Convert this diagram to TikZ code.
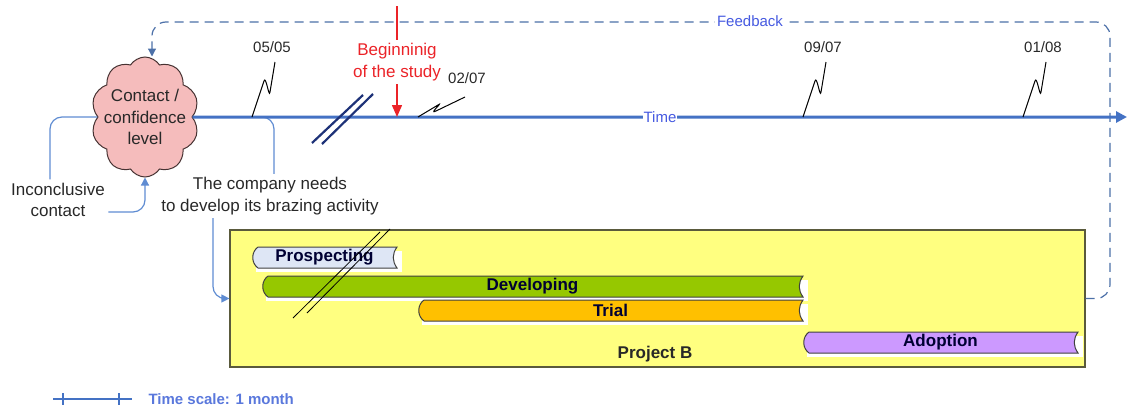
\documentclass[tikz,border=0pt]{standalone}
\usepackage{fontspec}
\setmainfont{Liberation Sans}
\usetikzlibrary{shapes.symbols,arrows.meta}

\definecolor{lineblue}{RGB}{68,114,196}
\definecolor{linkblue}{RGB}{95,140,210}
\definecolor{dashgray}{RGB}{125,140,165}
\definecolor{labelblue}{RGB}{70,90,225}
\definecolor{cloudpink}{RGB}{245,188,188}
\definecolor{boxyellow}{RGB}{255,255,128}
\definecolor{prospect}{RGB}{222,230,245}
\definecolor{develop}{RGB}{150,200,0}
\definecolor{trial}{RGB}{255,192,0}
\definecolor{adopt}{RGB}{204,153,255}
\definecolor{navy}{RGB}{30,50,120}
\definecolor{textgray}{RGB}{40,40,40}
\definecolor{studyred}{RGB}{235,35,40}

% one bar of the project: left, right, top, colour, text, name
\newcommand{\taskbar}[6]{%
   \fill[white] (#1+4,#3+4) rectangle (#2+5,#3+25);
   \draw[barline, fill=#4] (#1+6,#3) -- (#2,#3)
        .. controls (#2-5,#3+7) and (#2-5,#3+14) .. (#2,#3+21)
        -- (#1+6,#3+21) .. controls (#1-1,#3+16) and (#1-1,#3+5) .. (#1+6,#3);
   \node[bartext] (#6) at ({(#1+#2)/2},#3+10.5) {#5};
}

\begin{document}
\begin{tikzpicture}[x=1pt, y=-1pt,
   every node/.style={font=\fontsize{17}{21.5}\selectfont, text=textgray},
   timeline/.style={draw=lineblue, line width=3pt, -{Triangle[length=11pt,width=11pt]}},
   thinlink/.style={draw=linkblue, line width=1.2pt, rounded corners=12pt},
   feedline/.style={draw=dashgray, line width=1.2pt, dash pattern=on 9pt off 6pt, rounded corners=14pt},
   squig/.style={draw=black, line width=1pt},
   slash/.style={draw=navy, line width=2.2pt},
   barline/.style={draw=black!75, line width=1pt},
   bartext/.style={font=\fontsize{17}{20}\selectfont\bfseries, text=black!80!blue},
   small/.style={font=\fontsize{15}{18}\selectfont}]

   \useasboundingbox (0,0) rectangle (1127,407);

   % project box and its bars
   \node[draw={rgb,255:red,90;green,90;blue,60}, line width=1.2pt, fill=boxyellow,
         minimum width=855pt, minimum height=137pt] (projB) at (657.5,298.5) {};
   \taskbar{252}{397}{247}{prospect}{Prospecting}{prosp}
   \taskbar{262}{803}{276}{develop}{Developing}{devel}
   \taskbar{418}{803}{300}{trial}{Trial}{trial}
   \taskbar{803}{1078}{332}{adopt}{Adoption}{adopt}
   \draw[black, line width=.8pt] (293,318) -- (380,232) (307,313) -- (390,229);
   \node[bartext, text=textgray] (projname) at (655,354) {Project B};

   % nodes
   \node[cloud, cloud puffs=10, cloud puff arc=115, draw={rgb,255:red,70;green,50;blue,50},
         line width=1pt, fill=cloudpink, minimum width=108pt, minimum height=120pt,
         inner sep=0pt, align=center] (cloud) at (145,117) {};
   \node[align=center] (cloudtext) at (cloud.center) {Contact /\\confidence\\level};
   \node[align=center] (inc) at (58,200) {Inconclusive\\contact};
   \node[align=center] (need) at (270,196) {The company needs\\to develop its brazing activity};
   \node[align=center, text=studyred] (start) at (397,62) {Beginninig\\of the study};
   \coordinate (tend) at (1127,117);
   \coordinate (redtop) at (397,6);

   % feedback
   \draw[feedline, -{Triangle[length=8pt,width=8pt]}, linkblue!80!black]
        (projB.east) -| (1110,22) -| ([xshift=7pt]cloud.north);
   \node[small, text=labelblue, fill=white, inner sep=2pt] (fb) at (750,21) {Feedback};

   % links round the cloud
   \draw[thinlink] (cloud.west) -| ([xshift=-8pt]inc.north);
   \draw[thinlink, -{Triangle[length=8pt,width=8pt]}] ([yshift=-12pt]inc.east) -| (cloud.south);
   \draw[thinlink] (cloud.east) -| ([xshift=4pt]need.north);
   \draw[thinlink, -{Triangle[length=8pt,width=8pt]}] ([xshift=-57pt]need.south) |- (projB.west);

   % time axis
   \draw[timeline] (cloud.east) -- (tend);
   \node[small, text=labelblue, fill=white, inner sep=1pt] (time) at (660,117) {Time};
   \draw[slash] (312,143) -- (363,95) (322,144) -- (373,94);

   \foreach \x/\d in {252/{05/05}, 803/{09/07}, 1023/{01/08}}
   {
   \draw[squig] (\x,117) -- (\x+12,81) .. controls (\x+14,75) and (\x+17,99) .. (\x+18,92) -- (\x+23,62);
   \node[small] (d\x) at (\x+20,47) {\d};
   }
   \draw[squig] (418,117) -- (438,105) .. controls (444,101) and (428,115) .. (436,111) -- (465,97);
   \node[small] (d418) at (467,78) {02/07};

   % beginning of the study
   \draw[studyred, line width=1.5pt] (redtop) -- (start.north);
   \draw[studyred, line width=1.5pt, -{Triangle[length=12pt,width=10pt]}] (start.south) -- (start.south |- tend);

   % time scale
   \draw[lineblue, line width=1.5pt] (53,399) -- (132,399);
   \foreach \x in {63,119}
   \draw[lineblue, line width=1.2pt] (\x,393) -- (\x,405);
   \node[anchor=west, font=\fontsize{15}{18}\selectfont\bfseries, text={rgb,255:red,90;green,120;blue,220}]
        (scale) at (145,399) {Time scale: 1 month};

\end{tikzpicture}
\end{document}
